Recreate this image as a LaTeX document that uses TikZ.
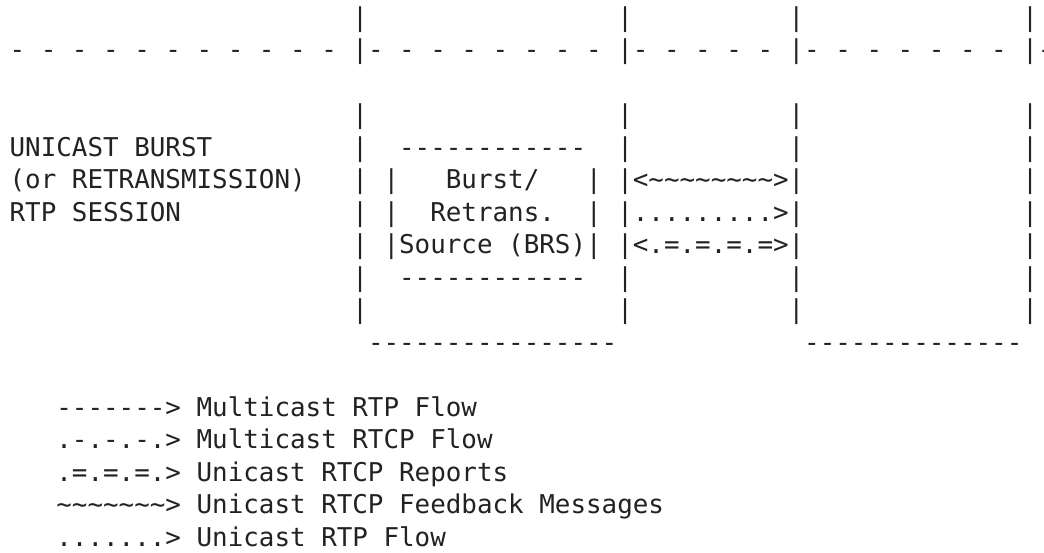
\documentclass[tikz,border=0pt]{standalone}
\usepackage{fontspec}
\setmonofont{DejaVu Sans Mono}
\definecolor{ink}{HTML}{222222}
\newcommand{\tld}{\char`\~}

\begin{document}
\begin{tikzpicture}[x=11.685pt, y=-24.375pt,
  ascii/.style={font=\ttfamily\fontsize{19.41pt}{24pt}\selectfont, text=ink, anchor=base west, inner sep=0pt}]

\useasboundingbox (-0.6033,-0.8092) rectangle (66.406,16.206);

% column bars
\foreach \c in {22,39,50,65}
  \foreach \r in {0,1,3,4,5,6,7,8,9}
    \node[ascii] (bar-\c-\r) at (\c,\r) {|};

\foreach \r in {5,6,7} {
  \node[ascii] (inl-\r) at (24,\r) {|};
  \node[ascii] (inr-\r) at (37,\r) {|};
}

% dashed boundary
\node[ascii] (bound0) at (0,1) {- - - - - - - - - - -};
\node[ascii] (bound1) at (23,1) {- - - - - - - -};
\node[ascii] (bound2) at (40,1) {- - - - -};
\node[ascii] (bound3) at (51,1) {- - - - - - -};
\node[ascii] (bound4) at (66,1) {-};

% session label
\node[ascii] (sess1) at (0,4) {UNICAST BURST};
\node[ascii] (sess2) at (0,5) {(or RETRANSMISSION)};
\node[ascii] (sess3) at (0,6) {RTP SESSION};

% BRS box
\node[ascii] (brstop) at (25,4) {------------};
\node[ascii] (brs1) at (28,5) {Burst/};
\node[ascii] (brs2) at (27,6) {Retrans.};
\node[ascii] (brs3) at (25,7) {Source (BRS)};
\node[ascii] (brsbot) at (25,8) {------------};

% flows
\node[ascii] (fback) at (40,5) {<\tld\tld\tld\tld\tld\tld\tld\tld>};
\node[ascii] (urtp) at (40,6) {.........>};
\node[ascii] (urtcp) at (40,7) {<.=.=.=.=>};

% box bottoms
\node[ascii] (botl) at (23,10) {----------------};
\node[ascii] (botr) at (51,10) {--------------};

% legend
\node[ascii] (leg1) at (3,12) {-------> Multicast RTP Flow};
\node[ascii] (leg2) at (3,13) {.-.-.-.> Multicast RTCP Flow};
\node[ascii] (leg3) at (3,14) {.=.=.=.> Unicast RTCP Reports};
\node[ascii] (leg4) at (3,15) {\tld\tld\tld\tld\tld\tld\tld> Unicast RTCP Feedback Messages};
\node[ascii] (leg5) at (3,16) {.......> Unicast RTP Flow};

\end{tikzpicture}
\end{document}
